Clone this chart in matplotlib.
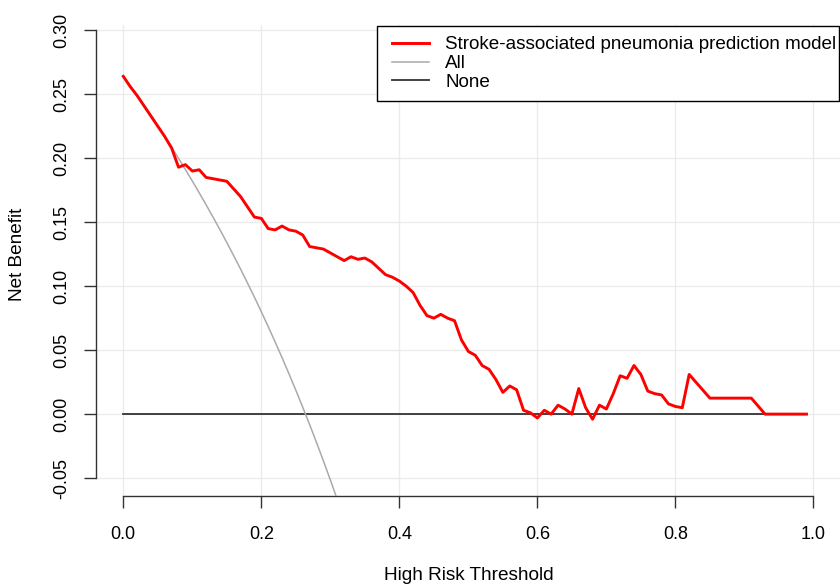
import matplotlib
matplotlib.use("Agg")
import matplotlib.pyplot as plt
from matplotlib.lines import Line2D
from matplotlib.patches import Rectangle

# ---- data ----
thresholds_model = [0.00, 0.01, 0.02, 0.03, 0.04, 0.05, 0.06, 0.07, 0.08, 0.09,
                    0.10, 0.11, 0.12, 0.13, 0.14, 0.15, 0.16, 0.17, 0.18, 0.19,
                    0.20, 0.21, 0.22, 0.23, 0.24, 0.25, 0.26, 0.27, 0.28, 0.29,
                    0.30, 0.31, 0.32, 0.33, 0.34, 0.35, 0.36, 0.37, 0.38, 0.39,
                    0.40, 0.41, 0.42, 0.43, 0.44, 0.45, 0.46, 0.47, 0.48, 0.49,
                    0.50, 0.51, 0.52, 0.53, 0.54, 0.55, 0.56, 0.57, 0.58, 0.59,
                    0.60, 0.61, 0.62, 0.63, 0.64, 0.65, 0.66, 0.67, 0.68, 0.69,
                    0.70, 0.71, 0.72, 0.73, 0.74, 0.75, 0.76, 0.77, 0.78, 0.79,
                    0.80, 0.81, 0.82, 0.85, 0.91, 0.93, 0.99]
nb_model = [0.264, 0.256, 0.249, 0.241, 0.233, 0.225, 0.217, 0.208, 0.193, 0.195,
            0.190, 0.191, 0.185, 0.184, 0.183, 0.182, 0.176, 0.170, 0.162, 0.154,
            0.153, 0.145, 0.144, 0.147, 0.144, 0.143, 0.140, 0.131, 0.130, 0.129,
            0.126, 0.123, 0.120, 0.123, 0.121, 0.122, 0.119, 0.114, 0.109, 0.107,
            0.104, 0.100, 0.095, 0.085, 0.077, 0.075, 0.078, 0.075, 0.073, 0.058,
            0.049, 0.046, 0.038, 0.035, 0.027, 0.017, 0.022, 0.019, 0.003, 0.001,
            -0.003, 0.003, 0.000, 0.007, 0.004, 0.000, 0.020, 0.005, -0.004, 0.007,
            0.004, 0.016, 0.030, 0.028, 0.038, 0.031, 0.018, 0.016, 0.015, 0.008,
            0.006, 0.005, 0.031, 0.0125, 0.0125, 0.000, 0.000]

thresholds_all = [0.00, 0.01, 0.02, 0.03, 0.04, 0.05, 0.06, 0.07, 0.08, 0.09,
                  0.10, 0.11, 0.12, 0.13, 0.14, 0.15, 0.16, 0.17, 0.18, 0.19,
                  0.20, 0.21, 0.22, 0.23, 0.24, 0.25, 0.26, 0.27, 0.28, 0.29,
                  0.30, 0.31]
nb_all = [0.264, 0.2566, 0.2490, 0.2412, 0.2333, 0.2253, 0.2170, 0.2086, 0.2000, 0.1912,
          0.1822, 0.1730, 0.1636, 0.1540, 0.1442, 0.1341, 0.1238, 0.1133, 0.1024, 0.0914,
          0.0800, 0.0684, 0.0564, 0.0442, 0.0316, 0.0187, 0.0054, -0.0082, -0.0222, -0.0366,
          -0.0514, -0.0667]

thresholds_none = [0.00, 0.99]
nb_none = [0.0, 0.0]

xticks = [0.0, 0.2, 0.4, 0.6, 0.8, 1.0]
xtick_labels = ["0.0", "0.2", "0.4", "0.6", "0.8", "1.0"]
yticks = [-0.05, 0.00, 0.05, 0.10, 0.15, 0.20, 0.25, 0.30]
ytick_labels = ["-0.05", "0.00", "0.05", "0.10", "0.15", "0.20", "0.25", "0.30"]
legend_labels = ["Stroke-associated pneumonia prediction model", "All", "None"]

# ---- figure ----
plt.rcParams['font.family'] = ['Liberation Sans', 'DejaVu Sans']
fig = plt.figure(figsize=(8.4, 5.85), dpi=100)
W, H = 840, 585
ax = fig.add_axes([95.7 / W, 1 - 496 / H, (841 - 95.7) / W, (496 - 12.4) / H])
ax.set_xlim(-0.04, 1.04)
ax.set_ylim(-0.064, 0.314)

grid_col = "#ebebeb"
ax.grid(True, axis="y", color=grid_col, linewidth=1.0)
for xt in xticks:
    ax.axvline(xt, ymin=0, ymax=(0.304 + 0.064) / 0.378, color=grid_col,
               linewidth=1.0, zorder=0.5)
ax.set_axisbelow(True)

ax.plot(thresholds_none, nb_none, color="#333333", linewidth=1.3, zorder=3)
ax.plot(thresholds_all, nb_all, color="#aaaaaa", linewidth=1.1, zorder=3)
ax.plot(thresholds_model, nb_model, color="#ff0000", linewidth=2.1, zorder=4,
        solid_joinstyle="round")

for s in ["top", "right"]:
    ax.spines[s].set_visible(False)
for s in ["left", "bottom"]:
    ax.spines[s].set_color("#333333")
    ax.spines[s].set_linewidth(1.0)
ax.spines["left"].set_bounds(-0.05, 0.30)
ax.spines["bottom"].set_bounds(0.0, 1.0)

ax.set_xticks(xticks)
ax.set_xticklabels(xtick_labels, fontsize=13)
ax.set_yticks(yticks)
ax.set_yticklabels(ytick_labels, fontsize=13, rotation=90, va="center")
ax.tick_params(axis="x", length=8.5, width=1.0, color="#333333", pad=13)
ax.tick_params(axis="y", length=8.5, width=1.0, color="#333333", pad=10)

ax.set_xlabel("High Risk Threshold", fontsize=13.7)
ax.xaxis.set_label_coords(0.5, -0.146)
ax.set_ylabel("Net Benefit", fontsize=13.7)
ax.yaxis.set_label_coords(-0.093, 0.5)

# legend
handles = [Line2D([], [], color="#ff0000", linewidth=2.1),
           Line2D([], [], color="#aaaaaa", linewidth=1.1),
           Line2D([], [], color="#333333", linewidth=1.3)]
leg = fig.legend(handles, legend_labels, loc="upper left",
                 bbox_to_anchor=(391.7 / W, 1 - 36 / H), frameon=False,
                 fontsize=13.6, handlelength=1.95, handletextpad=0.88,
                 labelspacing=0.09, borderpad=0.0, borderaxespad=0.0)
box = Rectangle((376.7 / W, 1 - 100.7 / H), (839 - 376.7) / W, (100.7 - 26) / H,
                transform=fig.transFigure, fill=True, facecolor="white",
                edgecolor="black", linewidth=1.0, zorder=5)
fig.patches.append(box)
leg.set_zorder(6)

fig.savefig("out.png", dpi=100)
